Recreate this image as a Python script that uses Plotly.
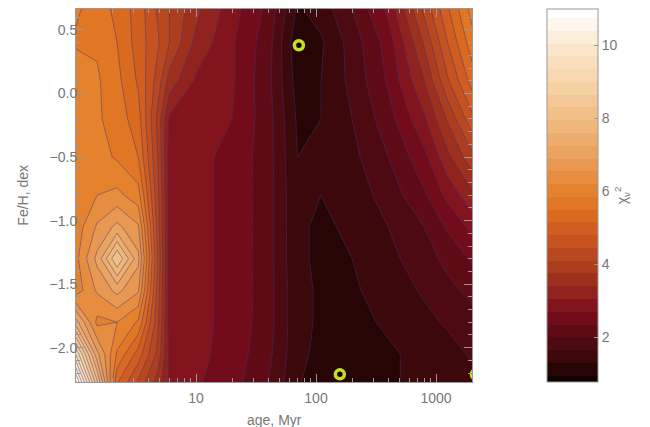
import plotly.graph_objects as go

# ---- data ----
ages = [1.0, 1.5, 2.2, 3.3, 4.8, 6.0, 10, 20, 40, 70, 110, 200, 400, 800, 1250, 2000]
feh = [-2.27, -2.05, -1.8, -1.55, -1.3, -1.05, -0.8, -0.5, -0.2, 0.1, 0.4, 0.665]
chi2 = [
    [10.8, 8.0, 5.2, 4.4, 3.6, 3.0, 2.75, 2.5, 2.0, 1.35, 1.05, 1.1, 1.25, 1.4, 1.5, 1.55],
    [9.3, 7.0, 5.8, 5.0, 4.0, 3.0, 2.8, 2.55, 2.1, 1.4, 1.2, 1.15, 1.25, 1.4, 1.5, 1.7],
    [7.4, 6.1, 6.2, 5.8, 4.2, 2.9, 2.8, 2.6, 2.15, 1.4, 1.25, 1.2, 1.35, 1.55, 1.7, 1.85],
    [6.0, 6.6, 7.0, 6.6, 4.3, 2.9, 2.8, 2.6, 2.15, 1.4, 1.25, 1.25, 1.45, 1.7, 1.9, 2.1],
    [6.1, 7.0, 8.3, 7.0, 4.4, 2.9, 2.8, 2.6, 2.15, 1.35, 1.25, 1.3, 1.55, 1.85, 2.1, 2.4],
    [6.0, 6.6, 7.0, 6.6, 4.3, 2.9, 2.8, 2.6, 2.15, 1.35, 1.25, 1.35, 1.65, 2.0, 2.4, 2.8],
    [5.9, 6.2, 6.3, 6.0, 4.2, 2.9, 2.8, 2.6, 2.15, 1.35, 1.3, 1.45, 1.8, 2.3, 2.8, 3.3],
    [6.1, 6.0, 5.8, 5.5, 4.1, 2.9, 2.8, 2.6, 2.15, 1.3, 1.3, 1.55, 2.0, 2.6, 3.3, 4.0],
    [6.1, 5.9, 5.7, 5.3, 4.0, 3.0, 2.85, 2.7, 2.15, 1.25, 1.3, 1.65, 2.2, 3.0, 3.8, 4.7],
    [6.1, 5.9, 5.6, 5.1, 4.3, 3.6, 3.0, 2.75, 2.1, 1.15, 1.3, 1.75, 2.4, 3.4, 4.4, 5.3],
    [5.8, 5.8, 5.5, 5.0, 4.5, 4.1, 3.3, 2.75, 2.15, 1.05, 1.25, 1.8, 2.5, 3.8, 4.8, 5.7],
    [5.9, 5.7, 5.4, 5.0, 4.4, 4.1, 3.5, 2.85, 2.25, 1.25, 1.45, 2.0, 2.8, 4.2, 5.1, 6.0],
]
best_age = [72, 158, 2150]
best_feh = [0.38, -2.21, -2.21]

x_tickvals = [10, 100, 1000]
x_ticktext = ["10", "100", "1000"]
x_minor = [2, 3, 4, 5, 6, 7, 8, 9, 20, 30, 40, 50, 60, 70, 80, 90,
           200, 300, 400, 500, 600, 700, 800, 900]
cbar_ticks = [2, 4, 6, 8, 10]

colorscale = [
    [0.0, "#100000"], [0.0594, "#380808"], [0.109, "#500a12"], [0.188, "#7a0c1c"],
    [0.257, "#962a1e"], [0.307, "#ab3c1e"], [0.406, "#cf5a20"], [0.465, "#df7020"],
    [0.505, "#e47e28"], [0.604, "#e99e5a"], [0.703, "#f0bb80"], [0.802, "#f6d3a8"],
    [0.901, "#fbe6cc"], [0.96, "#fff5ea"], [1.0, "#ffffff"],
]

FONT = "Liberation Sans"
GREY = "#777777"
AX = "#999999"
LEVELS = dict(start=0.95, end=10.8, size=0.35)

fig = go.Figure()
fig.add_trace(go.Contour(
    x=ages, y=feh, z=chi2,
    colorscale=colorscale, zmin=0.9, zmax=11.0,
    contours=dict(coloring="fill", **LEVELS),
    line=dict(width=0, smoothing=0),
    colorbar=dict(
        x=1.1894, xanchor="left", xpad=0, y=0.5, yanchor="middle", ypad=0,
        len=1, lenmode="fraction", thickness=51,
        outlinecolor=AX, outlinewidth=1,
        tickvals=cbar_ticks, ticks="inside", ticklen=4, tickcolor=AX,
        tickfont=dict(family=FONT, size=14, color=GREY),
        title=dict(text="χ<sub>ν</sub><sup>2</sup>", side="right",
                   font=dict(family=FONT, size=14, color=GREY)),
    ),
    hoverinfo="skip",
))
fig.add_trace(go.Contour(
    x=ages, y=feh, z=chi2,
    contours=dict(coloring="none", **LEVELS),
    line=dict(color="rgba(60,55,115,0.6)", width=0.8, smoothing=0),
    showscale=False, hoverinfo="skip",
))
fig.add_trace(go.Scatter(
    x=best_age, y=best_feh, mode="markers",
    marker=dict(symbol="circle", size=9, color="#1a0600",
                line=dict(color="#c2e024", width=3.5)),
    showlegend=False, cliponaxis=True,
))

axis_common = dict(
    showline=True, linecolor=AX, linewidth=1, mirror="ticks", automargin=False,
    ticks="inside", ticklen=8, tickcolor=AX, showgrid=False, zeroline=False,
    tickfont=dict(family=FONT, size=14, color=GREY),
)
fig.update_xaxes(
    type="log", range=[0, 3.3], tickvals=x_tickvals, ticktext=x_ticktext,
    ticklabelstandoff=3,
    minor=dict(tickvals=x_minor, ticks="inside", ticklen=4, tickcolor=AX, showgrid=False),
    **axis_common,
)
fig.update_yaxes(
    range=[-2.27, 0.665], tick0=0, dtick=0.5, tickformat=".1f",
    ticklabelstandoff=-5,
    minor=dict(dtick=0.1, ticks="inside", ticklen=4, tickcolor=AX, showgrid=False),
    **axis_common,
)
fig.add_annotation(text="age, Myr", xref="paper", yref="paper", x=0.5, y=-0.102,
                   xanchor="center", yanchor="middle", showarrow=False,
                   font=dict(family=FONT, size=14, color=GREY))
fig.add_annotation(text="Fe/H, dex", xref="paper", yref="paper", x=-0.136, y=0.5,
                   xanchor="center", yanchor="middle", textangle=-90, showarrow=False,
                   font=dict(family=FONT, size=14, color=GREY))
fig.update_layout(
    width=650, height=427,
    margin=dict(l=76, r=178, t=9, b=45),
    paper_bgcolor="white", plot_bgcolor="white",
    showlegend=False,
)
fig.write_html("out.html")
